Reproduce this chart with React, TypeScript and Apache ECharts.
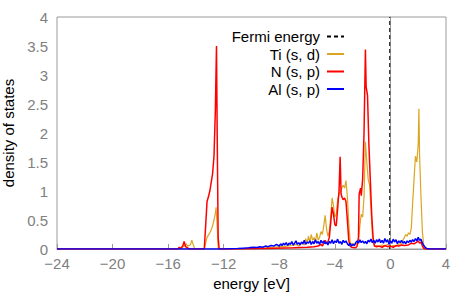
import React, { useEffect, useRef } from "react";
import * as echarts from "echarts";

const xTicks = { min: -24, max: 4, interval: 4 };
const yTicks = { min: 0, max: 4, interval: 0.5 };

const fermiEnergy: number[][] = [[-0.05, 0], [-0.05, 4]];

const tiSD: number[][] = [
  [-24, 0], [-15.1, 0], [-15.0, 0.02], [-14.9, 0.05], [-14.8, 0.06], [-14.7, 0.09], [-14.6, 0.05],
  [-14.5, 0.06], [-14.4, 0.07], [-14.3, 0.15], [-14.2, 0.08], [-14.1, 0.01], [-14.0, 0],
  [-13.4, 0], [-13.3, 0.1], [-13.2, 0.2], [-13.1, 0.24], [-13.0, 0.28], [-12.9, 0.33], [-12.8, 0.4],
  [-12.7, 0.5], [-12.6, 0.62], [-12.55, 0.72], [-12.45, 0.3], [-12.4, 0.02], [-12.3, 0],
  [-11, 0], [-10, 0.01], [-9, 0.02], [-8.5, 0.03], [-8, 0.04], [-7.5, 0.05], [-7, 0.06], [-6.8, 0.08],
  [-6.6, 0.05], [-6.4, 0.1], [-6.2, 0.07], [-6.1, 0.18], [-6.0, 0.1], [-5.9, 0.22], [-5.8, 0.12],
  [-5.7, 0.25], [-5.6, 0.15], [-5.5, 0.2], [-5.4, 0.12], [-5.3, 0.28], [-5.2, 0.15], [-5.1, 0.2],
  [-5.0, 0.3], [-4.9, 0.25], [-4.8, 0.4], [-4.7, 0.58], [-4.6, 0.35], [-4.5, 0.22], [-4.4, 0.3],
  [-4.3, 0.55], [-4.2, 0.88], [-4.1, 0.75], [-4.0, 0.55], [-3.9, 0.6], [-3.8, 0.85], [-3.7, 0.95],
  [-3.6, 1.0], [-3.5, 1.05], [-3.4, 1.1], [-3.3, 1.05], [-3.2, 1.18], [-3.1, 0.9], [-3.0, 0.45],
  [-2.9, 0.12], [-2.8, 0.08], [-2.7, 0.1], [-2.6, 0.06], [-2.5, 0.08], [-2.4, 0.1], [-2.3, 0.15],
  [-2.2, 0.4], [-2.1, 0.6], [-2.0, 0.55], [-1.9, 0.9], [-1.8, 1.85], [-1.7, 1.5], [-1.6, 1.2],
  [-1.5, 1.1], [-1.4, 0.7], [-1.3, 0.25], [-1.2, 0.08], [-1.1, 0.05], [-1.0, 0.06], [-0.8, 0.04],
  [-0.6, 0.07], [-0.4, 0.05], [-0.2, 0.08], [0, 0.04], [0.2, 0.06], [0.4, 0.05], [0.6, 0.08],
  [0.8, 0.1], [0.9, 0.15], [1.0, 0.2], [1.1, 0.25], [1.2, 0.22], [1.3, 0.28], [1.4, 0.25],
  [1.5, 0.35], [1.6, 0.8], [1.7, 1.2], [1.8, 1.6], [1.9, 1.5], [2.0, 1.8], [2.05, 2.42], [2.1, 1.6],
  [2.2, 0.9], [2.3, 0.3], [2.4, 0.05], [2.5, 0], [4, 0],
];

const nSP: number[][] = [
  [-24, 0], [-15.3, 0], [-15.2, 0.03], [-15.1, 0.01], [-14.95, 0.05], [-14.85, 0.13], [-14.75, 0.04],
  [-14.6, 0.02], [-14.5, 0], [-13.4, 0], [-13.3, 0.4], [-13.2, 0.82], [-13.1, 0.9], [-13.0, 1.0],
  [-12.9, 1.15], [-12.8, 1.3], [-12.7, 1.6], [-12.6, 2.4], [-12.52, 3.5], [-12.47, 2.0], [-12.4, 0.2],
  [-12.33, 0], [-11, 0], [-9, 0.01], [-7, 0.02], [-6, 0.03], [-5.5, 0.04], [-5.2, 0.05], [-5.0, 0.08],
  [-4.9, 0.05], [-4.8, 0.1], [-4.7, 0.15], [-4.6, 0.1], [-4.5, 0.12], [-4.4, 0.2], [-4.3, 0.45],
  [-4.2, 0.72], [-4.1, 0.6], [-4.0, 0.42], [-3.9, 0.4], [-3.8, 0.7], [-3.7, 1.0], [-3.62, 1.59],
  [-3.55, 0.95], [-3.5, 0.9], [-3.4, 0.85], [-3.3, 0.88], [-3.2, 0.82], [-3.1, 0.5], [-3.0, 0.15],
  [-2.9, 0.05], [-2.8, 0.03], [-2.5, 0.02], [-2.4, 0.05], [-2.3, 0.2], [-2.25, 0.95], [-2.15, 1.05],
  [-2.1, 0.92], [-2.0, 1.2], [-1.9, 2.0], [-1.8, 3.44], [-1.75, 2.8], [-1.65, 2.65], [-1.55, 1.8],
  [-1.45, 1.2], [-1.35, 0.6], [-1.25, 0.2], [-1.15, 0.05], [-1.0, 0.04], [-0.8, 0.05], [-0.6, 0.03],
  [-0.4, 0.06], [-0.2, 0.04], [0, 0.05], [0.2, 0.03], [0.4, 0.06], [0.6, 0.05], [0.8, 0.07],
  [1.0, 0.06], [1.3, 0.07], [1.5, 0.1], [1.7, 0.09], [1.9, 0.12], [2.0, 0.14], [2.1, 0.1],
  [2.2, 0.12], [2.3, 0.05], [2.4, 0.01], [2.5, 0], [4, 0],
];

const alSP: number[][] = [
  [-24, 0], [-12.0, 0], [-11.5, 0.005], [-11.0, 0.01], [-10.6, 0.015], [-10.2, 0.02], [-9.9, 0.03],
  [-9.6, 0.025], [-9.4, 0.04], [-9.2, 0.03], [-9.0, 0.05], [-8.8, 0.04], [-8.6, 0.06], [-8.4, 0.05],
  [-8.2, 0.08], [-8.0, 0.05], [-7.9, 0.09], [-7.8, 0.06], [-7.7, 0.1], [-7.6, 0.07], [-7.5, 0.11],
  [-7.4, 0.06], [-7.3, 0.1], [-7.2, 0.08], [-7.1, 0.13], [-7.0, 0.07], [-6.9, 0.1], [-6.8, 0.14],
  [-6.7, 0.08], [-6.6, 0.11], [-6.5, 0.07], [-6.4, 0.12], [-6.3, 0.09], [-6.2, 0.15], [-6.1, 0.08],
  [-6.0, 0.12], [-5.9, 0.1], [-5.8, 0.14], [-5.7, 0.08], [-5.6, 0.13], [-5.5, 0.09], [-5.4, 0.16],
  [-5.3, 0.1], [-5.2, 0.13], [-5.1, 0.08], [-5.0, 0.15], [-4.9, 0.1], [-4.8, 0.14], [-4.7, 0.09],
  [-4.6, 0.12], [-4.5, 0.07], [-4.4, 0.13], [-4.3, 0.1], [-4.2, 0.16], [-4.1, 0.09], [-4.0, 0.14],
  [-3.9, 0.11], [-3.8, 0.17], [-3.7, 0.1], [-3.6, 0.13], [-3.5, 0.08], [-3.4, 0.15], [-3.3, 0.11],
  [-3.2, 0.14], [-3.1, 0.09], [-3.0, 0.06], [-2.9, 0.1], [-2.8, 0.05], [-2.7, 0.08], [-2.6, 0.06],
  [-2.5, 0.11], [-2.4, 0.14], [-2.3, 0.1], [-2.2, 0.16], [-2.1, 0.11], [-2.0, 0.14], [-1.9, 0.1],
  [-1.8, 0.13], [-1.7, 0.09], [-1.6, 0.15], [-1.5, 0.12], [-1.4, 0.17], [-1.3, 0.11], [-1.2, 0.15],
  [-1.1, 0.1], [-1.0, 0.16], [-0.9, 0.12], [-0.8, 0.17], [-0.7, 0.11], [-0.6, 0.15], [-0.5, 0.1],
  [-0.4, 0.18], [-0.3, 0.12], [-0.2, 0.16], [-0.1, 0.08], [0.0, 0.14], [0.1, 0.1], [0.2, 0.17],
  [0.3, 0.12], [0.4, 0.16], [0.5, 0.09], [0.6, 0.14], [0.7, 0.11], [0.8, 0.15], [0.9, 0.1],
  [1.0, 0.13], [1.1, 0.09], [1.2, 0.14], [1.3, 0.11], [1.4, 0.15], [1.5, 0.12], [1.6, 0.16],
  [1.7, 0.13], [1.8, 0.18], [1.9, 0.14], [2.0, 0.2], [2.1, 0.15], [2.2, 0.17], [2.3, 0.1],
  [2.4, 0.06], [2.5, 0.03], [2.6, 0.01], [2.8, 0], [4, 0],
];

const seriesNames = ["Fermi energy", "Ti (s, d)", "N (s, p)", "Al (s, p)"];

const FONT = "Liberation Sans, Arial, Helvetica, sans-serif";
const GRAY = "#808080";
const FRAME = "#9a9a9a";

export default function App() {
  const ref = useRef<HTMLDivElement>(null);
  useEffect(() => {
    if (!ref.current) return;
    document.body.style.margin = "0";
    const chart = echarts.init(ref.current, null, { renderer: "svg" });
    chart.setOption({
      animation: false,
      textStyle: { fontFamily: FONT },
      grid: {
        left: 57,
        right: 25,
        top: 17,
        bottom: 43,
        outerBoundsMode: "none",
        containLabel: false,
        show: true,
        borderColor: FRAME,
        borderWidth: 1,
      },
      legend: {
        orient: "vertical",
        right: 121,
        top: 24,
        align: "right",
        itemWidth: 17,
        itemHeight: 10,
        itemGap: 2.5,
        itemStyle: { opacity: 0 },
        textStyle: { fontSize: 15, color: "#000", fontFamily: FONT, padding: [0, 2, 0, 0] },
        data: seriesNames,
      },
      xAxis: {
        type: "value",
        min: xTicks.min,
        max: xTicks.max,
        interval: xTicks.interval,
        name: "energy [eV]",
        nameLocation: "middle",
        nameGap: 21,
        nameTextStyle: { fontSize: 15, color: "#000" },
        axisLine: { show: true, lineStyle: { color: FRAME } },
        axisTick: { show: true, inside: true, length: 5, lineStyle: { color: FRAME } },
        axisLabel: {
          fontSize: 15,
          color: GRAY,
          margin: 7,
          formatter: (v: number) => String(v).replace("-", "\u2212"),
        },
        splitLine: { show: false },
      },
      yAxis: {
        type: "value",
        min: yTicks.min,
        max: yTicks.max,
        interval: yTicks.interval,
        name: "density of states",
        nameLocation: "middle",
        nameGap: 38,
        nameTextStyle: { fontSize: 15, color: "#000" },
        axisLine: { show: true, lineStyle: { color: FRAME } },
        axisTick: { show: false },
        axisLabel: { fontSize: 15, color: GRAY, margin: 9 },
        splitLine: { show: false },
      },
      series: [
        {
          name: seriesNames[0],
          type: "line",
          data: fermiEnergy,
          symbol: "none",
          lineStyle: { color: "#000", width: 1, type: [4, 3] },
          itemStyle: { color: "#000" },
        },
        {
          name: seriesNames[1],
          type: "line",
          data: tiSD,
          symbol: "none",
          lineStyle: { color: "#DAA520", width: 1.2 },
          itemStyle: { color: "#DAA520" },
        },
        {
          name: seriesNames[2],
          type: "line",
          data: nSP,
          symbol: "none",
          lineStyle: { color: "#FF0000", width: 1.5 },
          itemStyle: { color: "#FF0000" },
        },
        {
          name: seriesNames[3],
          type: "line",
          data: alSP,
          symbol: "none",
          lineStyle: { color: "#0000FF", width: 1.5 },
          itemStyle: { color: "#0000FF" },
        },
      ],
    });
    return () => chart.dispose();
  }, []);
  return <div ref={ref} style={{ width: 471, height: 292 }} />;
}
